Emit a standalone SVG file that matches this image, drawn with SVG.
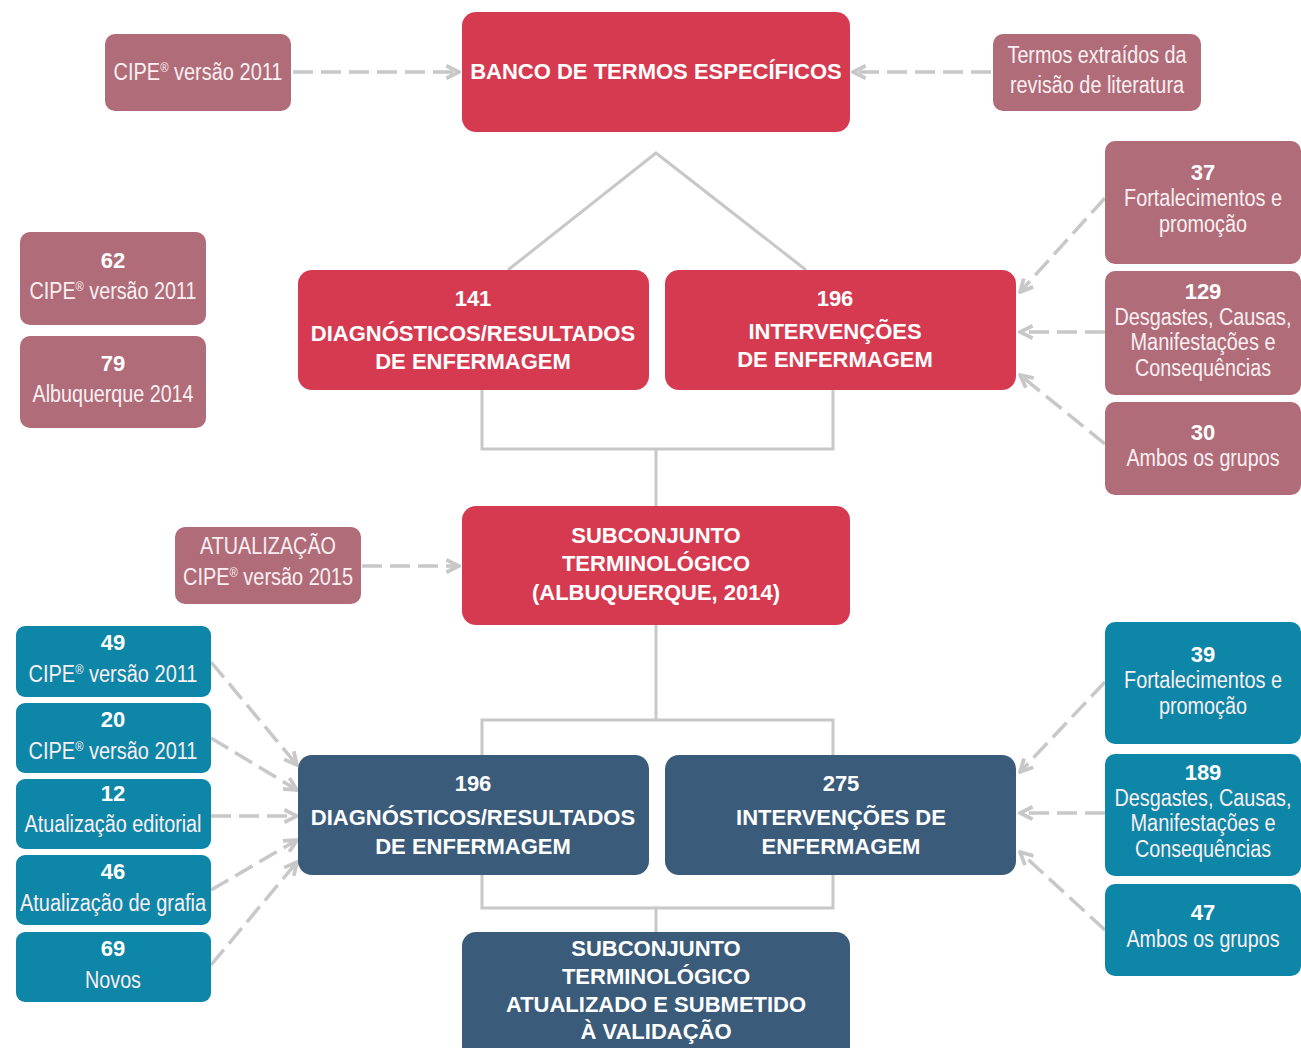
<svg xmlns="http://www.w3.org/2000/svg" width="1301" height="1048" viewBox="0 0 1301 1048">
<defs>
<style>
.red{fill:#D63A50}
.mau{fill:#B06C79}
.teal{fill:#0E86A8}
.navy{fill:#3B5B7A}
.t{font-family:"Liberation Sans",Arial,sans-serif;font-size:23px;fill:#FAF0F2;text-anchor:middle}
.n{font-family:"Liberation Sans",Arial,sans-serif;font-size:22px;font-weight:bold;fill:#FFFFFF;text-anchor:middle}
.b{font-family:"Liberation Sans",Arial,sans-serif;font-size:22px;font-weight:bold;fill:#FFFFFF;text-anchor:middle}
.sup{font-size:13px}
.solid{fill:none;stroke:#C8C8C8;stroke-width:3}
.dash{fill:none;stroke:#C8C8C8;stroke-width:3.5;stroke-dasharray:20 8;marker-end:url(#arr)}
</style>
<marker id="arr" viewBox="0 0 10 10" refX="9" refY="5" markerWidth="4.5" markerHeight="4.5" markerUnits="strokeWidth" orient="auto">
<path d="M1,1 L9,5 L1,9" fill="none" stroke="#C8C8C8" stroke-width="2.4"/>
</marker>
</defs>
<rect width="1301" height="1048" fill="#FFFFFF"/>

<g id="connectors">
<polyline class="solid" points="508,270 656,153 806,270"/>
<polyline class="solid" points="482,390 482,449 833,449 833,390"/>
<line class="solid" x1="656" y1="449" x2="656" y2="506"/>
<line class="solid" x1="656" y1="625" x2="656" y2="720"/>
<polyline class="solid" points="482,755 482,720 833,720 833,755"/>
<polyline class="solid" points="482,875 482,908 833,908 833,875"/>
<line class="solid" x1="656" y1="908" x2="656" y2="932"/>
<line class="dash" x1="293" y1="72" x2="459" y2="72"/>
<line class="dash" x1="991" y1="72" x2="853" y2="72"/>
<line class="dash" x1="1105" y1="198" x2="1020" y2="292"/>
<line class="dash" x1="1105" y1="332" x2="1020" y2="332"/>
<line class="dash" x1="1105" y1="444" x2="1020" y2="375"/>
<line class="dash" x1="362" y1="566" x2="459" y2="566"/>
<line class="dash" x1="211" y1="662" x2="297" y2="765"/>
<line class="dash" x1="211" y1="738" x2="297" y2="790"/>
<line class="dash" x1="211" y1="816" x2="297" y2="816"/>
<line class="dash" x1="211" y1="890" x2="297" y2="840"/>
<line class="dash" x1="211" y1="965" x2="297" y2="862"/>
<line class="dash" x1="1105" y1="682" x2="1020" y2="772"/>
<line class="dash" x1="1105" y1="813" x2="1020" y2="813"/>
<line class="dash" x1="1105" y1="930" x2="1020" y2="852"/>
</g>

<g id="banco"><rect class="red" x="462" y="12" width="388" height="120" rx="14"/>
<text class="b" x="656" y="79">BANCO DE TERMOS ESPECÍFICOS</text></g>

<g id="cipe2011top"><rect class="mau" x="105" y="34" width="186" height="77" rx="10"/>
<text class="t" x="198" y="80" textLength="169" lengthAdjust="spacingAndGlyphs">CIPE<tspan class="sup" dy="-8">®</tspan><tspan dy="8"> versão 2011</tspan></text></g>

<g id="termos"><rect class="mau" x="993" y="34" width="208" height="77" rx="10"/>
<text class="t" x="1097" y="63" textLength="179" lengthAdjust="spacingAndGlyphs">Termos extraídos da</text>
<text class="t" x="1097" y="93" textLength="174" lengthAdjust="spacingAndGlyphs">revisão de literatura</text></g>

<g id="n62"><rect class="mau" x="20" y="232" width="186" height="93" rx="10"/>
<text class="n" x="113" y="268">62</text>
<text class="t" x="113" y="299" textLength="167" lengthAdjust="spacingAndGlyphs">CIPE<tspan class="sup" dy="-8">®</tspan><tspan dy="8"> versão 2011</tspan></text></g>

<g id="n79"><rect class="mau" x="20" y="336" width="186" height="92" rx="10"/>
<text class="n" x="113" y="371">79</text>
<text class="t" x="113" y="402" textLength="161" lengthAdjust="spacingAndGlyphs">Albuquerque 2014</text></g>

<g id="diag141"><rect class="red" x="298" y="270" width="351" height="120" rx="14"/>
<text class="b" x="473" y="306">141</text>
<text class="b" x="473" y="341">DIAGNÓSTICOS/RESULTADOS</text>
<text class="b" x="473" y="369">DE ENFERMAGEM</text></g>

<g id="int196"><rect class="red" x="665" y="270" width="351" height="120" rx="14"/>
<text class="b" x="835" y="306">196</text>
<text class="b" x="835" y="339">INTERVENÇÕES</text>
<text class="b" x="835" y="367">DE ENFERMAGEM</text></g>

<g id="n37"><rect class="mau" x="1105" y="141" width="196" height="123" rx="10"/>
<text class="n" x="1203" y="180">37</text>
<text class="t" x="1203" y="206" textLength="158" lengthAdjust="spacingAndGlyphs">Fortalecimentos e</text>
<text class="t" x="1203" y="232" textLength="88" lengthAdjust="spacingAndGlyphs">promoção</text></g>

<g id="n129"><rect class="mau" x="1105" y="271" width="196" height="124" rx="10"/>
<text class="n" x="1203" y="299">129</text>
<text class="t" x="1203" y="325" textLength="177" lengthAdjust="spacingAndGlyphs">Desgastes, Causas,</text>
<text class="t" x="1203" y="350" textLength="145" lengthAdjust="spacingAndGlyphs">Manifestações e</text>
<text class="t" x="1203" y="376" textLength="136" lengthAdjust="spacingAndGlyphs">Consequências</text></g>

<g id="n30"><rect class="mau" x="1105" y="402" width="196" height="93" rx="10"/>
<text class="n" x="1203" y="440">30</text>
<text class="t" x="1203" y="466" textLength="153" lengthAdjust="spacingAndGlyphs">Ambos os grupos</text></g>

<g id="atualizacao"><rect class="mau" x="175" y="527" width="186" height="77" rx="10"/>
<text class="t" x="268" y="554" textLength="136" lengthAdjust="spacingAndGlyphs">ATUALIZAÇÃO</text>
<text class="t" x="268" y="585" textLength="170" lengthAdjust="spacingAndGlyphs">CIPE<tspan class="sup" dy="-8">®</tspan><tspan dy="8"> versão 2015</tspan></text></g>

<g id="subconjunto"><rect class="red" x="462" y="506" width="388" height="119" rx="14"/>
<text class="b" x="656" y="543">SUBCONJUNTO</text>
<text class="b" x="656" y="571">TERMINOLÓGICO</text>
<text class="b" x="656" y="600">(ALBUQUERQUE, 2014)</text></g>

<g id="n49"><rect class="teal" x="16" y="626" width="195" height="71" rx="9"/>
<text class="n" x="113" y="650">49</text>
<text class="t" x="113" y="682" textLength="169" lengthAdjust="spacingAndGlyphs">CIPE<tspan class="sup" dy="-8">®</tspan><tspan dy="8"> versão 2011</tspan></text></g>

<g id="n20"><rect class="teal" x="16" y="703" width="195" height="70" rx="9"/>
<text class="n" x="113" y="727">20</text>
<text class="t" x="113" y="759" textLength="169" lengthAdjust="spacingAndGlyphs">CIPE<tspan class="sup" dy="-8">®</tspan><tspan dy="8"> versão 2011</tspan></text></g>

<g id="n12"><rect class="teal" x="16" y="779" width="195" height="70" rx="9"/>
<text class="n" x="113" y="801">12</text>
<text class="t" x="113" y="832" textLength="177" lengthAdjust="spacingAndGlyphs">Atualização editorial</text></g>

<g id="n46"><rect class="teal" x="16" y="855" width="195" height="70" rx="9"/>
<text class="n" x="113" y="879">46</text>
<text class="t" x="113" y="911" textLength="186" lengthAdjust="spacingAndGlyphs">Atualização de grafia</text></g>

<g id="n69"><rect class="teal" x="16" y="932" width="195" height="70" rx="9"/>
<text class="n" x="113" y="956">69</text>
<text class="t" x="113" y="988" textLength="56" lengthAdjust="spacingAndGlyphs">Novos</text></g>

<g id="diag196"><rect class="navy" x="298" y="755" width="351" height="120" rx="14"/>
<text class="b" x="473" y="791">196</text>
<text class="b" x="473" y="825">DIAGNÓSTICOS/RESULTADOS</text>
<text class="b" x="473" y="854">DE ENFERMAGEM</text></g>

<g id="int275"><rect class="navy" x="665" y="755" width="351" height="120" rx="14"/>
<text class="b" x="841" y="791">275</text>
<text class="b" x="841" y="825">INTERVENÇÕES DE</text>
<text class="b" x="841" y="854">ENFERMAGEM</text></g>

<g id="n39"><rect class="teal" x="1105" y="622" width="196" height="122" rx="10"/>
<text class="n" x="1203" y="662">39</text>
<text class="t" x="1203" y="688" textLength="158" lengthAdjust="spacingAndGlyphs">Fortalecimentos e</text>
<text class="t" x="1203" y="714" textLength="88" lengthAdjust="spacingAndGlyphs">promoção</text></g>

<g id="n189"><rect class="teal" x="1105" y="754" width="196" height="122" rx="10"/>
<text class="n" x="1203" y="780">189</text>
<text class="t" x="1203" y="806" textLength="177" lengthAdjust="spacingAndGlyphs">Desgastes, Causas,</text>
<text class="t" x="1203" y="831" textLength="145" lengthAdjust="spacingAndGlyphs">Manifestações e</text>
<text class="t" x="1203" y="857" textLength="136" lengthAdjust="spacingAndGlyphs">Consequências</text></g>

<g id="n47"><rect class="teal" x="1105" y="884" width="196" height="92" rx="10"/>
<text class="n" x="1203" y="920">47</text>
<text class="t" x="1203" y="947" textLength="153" lengthAdjust="spacingAndGlyphs">Ambos os grupos</text></g>

<g id="final"><rect class="navy" x="462" y="932" width="388" height="130" rx="14"/>
<text class="b" x="656" y="956">SUBCONJUNTO</text>
<text class="b" x="656" y="984">TERMINOLÓGICO</text>
<text class="b" x="656" y="1012">ATUALIZADO E SUBMETIDO</text>
<text class="b" x="656" y="1039">À VALIDAÇÃO</text></g>
</svg>
